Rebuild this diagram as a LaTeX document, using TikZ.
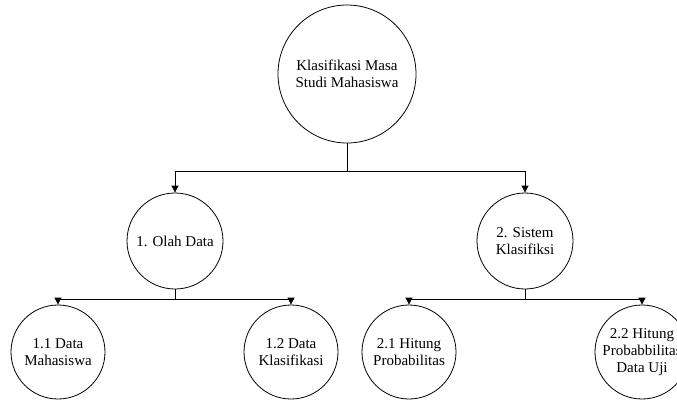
\documentclass[tikz,border=0pt]{standalone}
\usepackage{fontspec}
\setmainfont{Liberation Serif}
\usetikzlibrary{arrows.meta}
\tikzset{
  proc/.style={draw, circle, inner sep=0pt, align=center, font=\fontsize{15}{17}\selectfont},
  flow/.style={-{Triangle[width=7pt,length=7pt]}}
}
\begin{document}
\begin{tikzpicture}[x=1pt, y=-1pt, line width=0.8pt]
      \useasboundingbox (0,0) rectangle (677,400);
      \draw
        (347,74) node[proc, minimum size=138pt] (root){Klasifikasi Masa\\Studi Mahasiswa}
        (175,241) node[proc, minimum size=96pt] (olah){1. Olah Data}
        (525,241) node[proc, minimum size=96pt] (sistem){2. Sistem\\Klasifiksi}
        (58,352) node[proc, minimum size=94pt] (mhs){1.1 Data\\Mahasiswa}
        (291,352) node[proc, minimum size=94pt] (kls){1.2 Data\\Klasifikasi}
        (409,352) node[proc, minimum size=94pt] (prob){2.1 Hitung\\Probabilitas}
        (642,352) node[proc, minimum size=94pt] (uji){2.2 Hitung\\Probabbilitas\\Data Uji};
      \coordinate (j0) at (347,171);
      \coordinate (j1) at (175,299);
      \coordinate (j2) at (525,299);
      \begin{scope}[-]
        \draw (root) -- (j0);
        \draw (olah) -- (j1);
        \draw (sistem) -- (j2);
      \end{scope}
      \begin{scope}[flow]
        \draw (j0) -| (olah);
        \draw (j0) -| (sistem);
        \draw (j1) -| (mhs);
        \draw (j1) -| (kls);
        \draw (j2) -| (prob);
        \draw (j2) -| (uji);
      \end{scope}
    \end{tikzpicture}
\end{document}
